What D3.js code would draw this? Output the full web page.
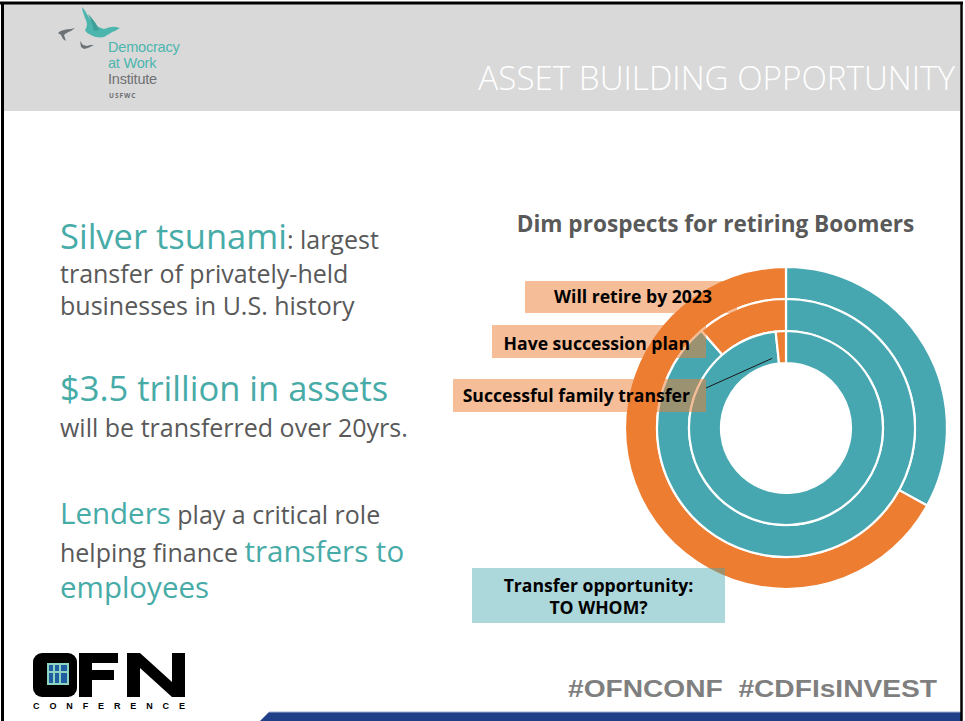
<!DOCTYPE html>
<html>
<head>
<meta charset="utf-8">
<script src="https://cdn.jsdelivr.net/npm/d3@7"></script>
<style>
  html, body { margin: 0; padding: 0; background: #fff; }
  svg { display: block; }
</style>
</head>
<body>
<svg id="slide" width="965" height="721"></svg>
<script>
// ---------------- DATA ----------------
const rings = ["Will retire by 2023", "Have succession plan", "Successful family transfer"];
const tealValues = [33, 88.6, 98.3];     // remainder share per ring (%)
const orangeValues = [67, 11.4, 1.7];    // highlighted share per ring (%)
const chartTitle = "Dim prospects for retiring Boomers";
const calloutText = ["Transfer opportunity:", "TO WHOM?"];
const slideTitle = "ASSET BUILDING OPPORTUNITY";
const hashtags = "#OFNCONF  #CDFIsINVEST";

const TEAL = "#47a7b0";
const ORANGE = "#ed7d31";
const TXT_TEAL = "#47aba7";
const TXT_GRAY = "#595959";
const FONT = "'Open Sans', 'Noto Sans', sans-serif";

const svg = d3.select("#slide");

// ---------------- HEADER ----------------
svg.append("rect").attr("x", 4).attr("y", 4).attr("width", 956).attr("height", 107).attr("fill", "#d9d9d9");
svg.append("text").attr("x", 955).attr("y", 90).attr("text-anchor", "end")
  .attr("font-family", "'Open Sans', 'Lato', sans-serif").attr("font-weight", 300)
  .attr("font-size", 33.2).attr("fill", "#ffffff").text(slideTitle);

// logo birds
const logo = svg.append("g");
logo.append("path").attr("fill", "#4cb5ae")
  .attr("d", "M82,7 C86,11 88,17 92,22 C96,26 100,28 104,29 C108,28 112,26 116,27 L120,28 L115,31 C111,32 108,35 104,37 C99,38 94,37 91,35 C88,34 86,32 85,30 C88,26 87,22 85,18 C84,14 82,11 82,7 Z");
logo.append("path").attr("fill", "#3e9f99")
  .attr("d", "M88,14 C92,18 97,24 99,30 L94,31 C93,26 91,20 88,14 Z");
logo.append("path").attr("fill", "#6b7278")
  .attr("d", "M58,33 C61,30 66,29 71,29 L75,28 L71,31 C68,32 66,33 64,35 L66,41 L63,39 L61,35 Z");
logo.append("path").attr("fill", "#6b7278")
  .attr("d", "M80,41 L83,45 L87,46 L90,45 L94,45 L88,48 L84,49 L81,47 Z");
const logoText = [
  { t: "Democracy", y: 52, c: "#4cb5ae" },
  { t: "at Work", y: 68, c: "#4cb5ae" },
  { t: "Institute", y: 84, c: "#6e7073" }
];
logo.selectAll("text.lt").data(logoText).join("text").attr("class", "lt")
  .attr("x", 108).attr("y", d => d.y).attr("font-family", "'Liberation Sans', Arial, sans-serif")
  .attr("font-size", 14.5).attr("fill", d => d.c).attr("letter-spacing", -0.2).text(d => d.t);
logo.append("text").attr("x", 109).attr("y", 98).attr("font-family", FONT).attr("font-weight", 700)
  .attr("font-size", 6.5).attr("letter-spacing", 1).attr("fill", "#6e7073").text("USFWC");

// ---------------- LEFT TEXT ----------------
const left = svg.append("g").attr("font-family", FONT);
function line(y, parts) {
  const t = left.append("text").attr("x", 60).attr("y", y);
  parts.forEach(p => t.append("tspan").attr("font-size", p[2]).attr("fill", p[1]).text(p[0]));
}
const BIG = 34.5, SMALL = 25, MID = 29.5;
line(249, [["Silver tsunami", TXT_TEAL, BIG], [": largest", TXT_GRAY, SMALL]]);
line(283, [["transfer of privately-held", TXT_GRAY, SMALL]]);
line(315, [["businesses in U.S. history", TXT_GRAY, SMALL]]);
line(401, [["$3.5 trillion in assets", TXT_TEAL, BIG]]);
line(437, [["will be transferred over 20yrs.", TXT_GRAY, SMALL]]);
line(524, [["Lenders", TXT_TEAL, MID], [" play a critical role", TXT_GRAY, SMALL]]);
line(562, [["helping finance ", TXT_GRAY, SMALL], ["transfers to", TXT_TEAL, MID]]);
line(598, [["employees", TXT_TEAL, MID]]);

// ---------------- CHART ----------------
svg.append("text").attr("x", 715.5).attr("y", 231.5).attr("text-anchor", "middle")
  .attr("font-family", FONT).attr("font-weight", 700).attr("font-size", 22.6)
  .attr("fill", TXT_GRAY).text(chartTitle);

const cx = 786, cy = 428;
// band scale for ring radii: ring 0 outermost
const radius = d3.scaleBand().domain(rings).range([161, 65]).paddingInner(0);
const pie = d3.pie().sort(null).value(d => d.v);
const chart = svg.append("g").attr("transform", `translate(${cx},${cy})`);

const ringData = rings.map((name, i) => ({
  name,
  slices: pie([{ k: "teal", v: tealValues[i] }, { k: "orange", v: orangeValues[i] }])
}));

ringData.forEach(r => {
  const innerR = radius(r.name);
  const outerR = innerR + radius.bandwidth();
  const arc = d3.arc().innerRadius(innerR).outerRadius(outerR);
  chart.append("g").selectAll("path").data(r.slices).join("path")
    .attr("d", arc)
    .attr("fill", d => d.data.k === "teal" ? TEAL : ORANGE)
    .attr("stroke", "#ffffff").attr("stroke-width", 2.2).attr("stroke-linejoin", "round");
  r.innerR = innerR; r.outerR = outerR;
});

// leader line from innermost orange slice
const inner = ringData[2];
const ang = inner.slices[1].startAngle - 0.09;
const lr = inner.innerR + 6;
chart.append("line")
  .attr("x1", lr * Math.sin(ang)).attr("y1", -lr * Math.cos(ang))
  .attr("x2", 706 - cx).attr("y2", 388 - cy)
  .attr("stroke", "#1a1a1a").attr("stroke-width", 1);

// label boxes (semi-transparent, drawn over donut)
const boxes = [
  { x: 525, y: 281, w: 212, h: 32, tx: 712, ty: 303, anchor: "end", lines: [rings[0]], c: ORANGE },
  { x: 492, y: 325, w: 214, h: 33, tx: 690, ty: 349.5, anchor: "end", lines: [rings[1]], c: ORANGE },
  { x: 453, y: 379, w: 253, h: 33, tx: 690, ty: 402, anchor: "end", lines: [rings[2]], c: ORANGE },
  { x: 472, y: 568, w: 253, h: 55, tx: 598.5, ty: 592, anchor: "middle", lines: calloutText, c: TEAL }
];
const bg = svg.append("g");
bg.selectAll("rect").data(boxes).join("rect")
  .attr("x", d => d.x).attr("y", d => d.y).attr("width", d => d.w).attr("height", d => d.h)
  .attr("fill", d => d.c).attr("fill-opacity", d => d.c === TEAL ? 0.45 : 0.5);
boxes.forEach(b => {
  const t = bg.append("text").attr("x", b.tx).attr("y", b.ty).attr("text-anchor", b.anchor)
    .attr("font-family", FONT).attr("font-weight", 700).attr("font-size", 17.6).attr("fill", "#000");
  b.lines.forEach((l, i) => t.append("tspan").attr("x", b.tx).attr("dy", i === 0 ? 0 : 22).text(l));
});

// ---------------- FOOTER ----------------
svg.append("text").attr("x", 568).attr("y", 697)
  .attr("font-family", "'Liberation Sans', Arial, sans-serif").attr("font-weight", 700)
  .attr("font-size", 24).attr("fill", "#7f7f7f").attr("xml:space", "preserve")
  .attr("textLength", 369).attr("lengthAdjust", "spacingAndGlyphs").text(hashtags);

svg.append("polygon").attr("points", "260,721 269,712 961,712 961,721").attr("fill", "#1f3f86");
svg.append("line").attr("x1", 269).attr("y1", 712).attr("x2", 961).attr("y2", 712)
  .attr("stroke", "#9fb3d6").attr("stroke-width", 1);

// OFN logo
const ofn = svg.append("g");
ofn.append("rect").attr("x", 33).attr("y", 653).attr("width", 44).attr("height", 44).attr("rx", 9).attr("fill", "#000");
ofn.append("rect").attr("x", 47).attr("y", 663).attr("width", 22).attr("height", 22).attr("fill", "#8fd3c2");
ofn.append("rect").attr("x", 49).attr("y", 665).attr("width", 18).attr("height", 18).attr("fill", "#1f5fa0");
ofn.append("rect").attr("x", 53).attr("y", 665).attr("width", 2).attr("height", 18).attr("fill", "#8fd3c2");
ofn.append("rect").attr("x", 59).attr("y", 665).attr("width", 2).attr("height", 18).attr("fill", "#8fd3c2");
ofn.append("rect").attr("x", 49).attr("y", 671).attr("width", 18).attr("height", 2).attr("fill", "#8fd3c2");
// F
ofn.append("path").attr("fill", "#000").attr("d", "M79,653 H118 V663 H92 V670 H114 V680 H92 V697 H79 Z");
// N
ofn.append("path").attr("fill", "#000").attr("d", "M127,653 H140 L172,682 V653 H185 V697 H172 L140,668 V697 H127 Z");
ofn.append("text").attr("x", 33).attr("y", 708.5).attr("font-family", "'Liberation Sans', Arial, sans-serif")
  .attr("font-weight", 700).attr("font-size", 9).attr("fill", "#000")
  .attr("textLength", 152).attr("lengthAdjust", "spacing").text("CONFERENCE");

// ---------------- BORDER ----------------
svg.append("line").attr("x1", 0).attr("y1", 3).attr("x2", 963).attr("y2", 3).attr("stroke", "#000").attr("stroke-width", 3);
svg.append("line").attr("x1", 2.5).attr("y1", 2).attr("x2", 2.5).attr("y2", 721).attr("stroke", "#000").attr("stroke-width", 3);
svg.append("line").attr("x1", 961.5).attr("y1", 2).attr("x2", 961.5).attr("y2", 721).attr("stroke", "#000").attr("stroke-width", 2.5);
</script>
</body>
</html>
